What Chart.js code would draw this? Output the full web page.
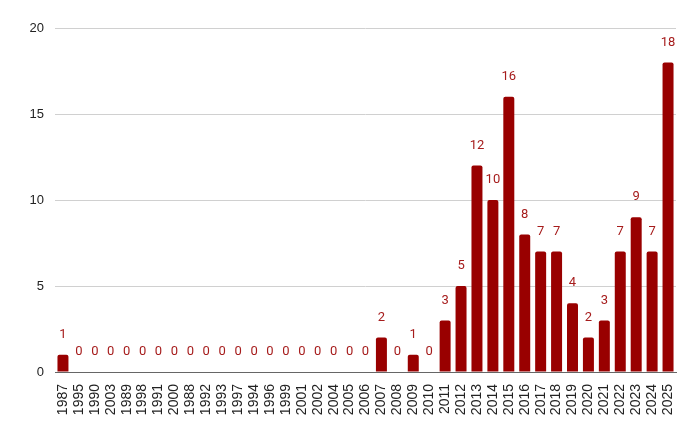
<!DOCTYPE html>
<html lang="en">
<head>
  <meta charset="UTF-8">
  <title>Bar chart</title>
  <style>
    body { margin: 0; background: #fff; }
    #wrap { width: 700px; height: 433px; position: relative; }
  </style>
</head>
<body>
  <div id="wrap"><canvas id="chart"></canvas></div>

  <script src="https://cdn.jsdelivr.net/npm/chart.js"></script>
  <script>
    const years = [
      "1987", "1995", "1990", "2003", "1989", "1998", "1991", "2000", "1988", "1992",
      "1993", "1997", "1994", "1996", "1999", "2001", "2002", "2004", "2005", "2006",
      "2007", "2008", "2009", "2010", "2011", "2012", "2013", "2014", "2015", "2016",
      "2017", "2018", "2019", "2020", "2021", "2022", "2023", "2024", "2025"
    ];
    const counts = [
      1, 0, 0, 0, 0, 0, 0, 0, 0, 0,
      0, 0, 0, 0, 0, 0, 0, 0, 0, 0,
      2, 0, 1, 0, 3, 5, 12, 10, 16, 8,
      7, 7, 4, 2, 3, 7, 9, 7, 18
    ];
    const yTicks = [0, 5, 10, 15, 20];

    // value labels above each bar
    const barLabels = {
      id: "barLabels",
      afterDatasetsDraw(chart) {
        const ctx = chart.ctx;
        const meta = chart.getDatasetMeta(0);
        ctx.save();
        ctx.font = "13px Roboto, sans-serif";
        ctx.fillStyle = "#a61c1c";
        ctx.textAlign = "center";
        ctx.textBaseline = "middle";
        meta.data.forEach((bar, i) => {
          ctx.fillText(String(counts[i]), bar.x, bar.y - 20);
        });
        ctx.restore();
      }
    };

    new Chart(document.getElementById("chart"), {
      type: "bar",
      data: {
        labels: years,
        datasets: [{
          data: counts,
          backgroundColor: "#990000",
          borderRadius: 2,
          borderSkipped: "bottom",
          categoryPercentage: 1,
          barPercentage: 0.69
        }]
      },
      options: {
        responsive: true,
        maintainAspectRatio: false,
        animation: false,
        layout: { padding: { top: 28, right: 24, left: 0, bottom: 0 } },
        plugins: {
          legend: { display: false },
          tooltip: { enabled: false }
        },
        scales: {
          x: {
            grid: { display: false },
            border: { display: true, color: "#666", width: 1 },
            ticks: {
              autoSkip: false,
              minRotation: 90,
              maxRotation: 90,
              padding: 4,
              color: "#222",
              font: { family: "Liberation Sans, Arial, sans-serif", size: 14 }
            },
            afterFit(scale) { scale.height = 61; }
          },
          y: {
            min: 0,
            max: 20,
            afterBuildTicks(scale) { scale.ticks = yTicks.map(v => ({ value: v })); },
            border: { display: false },
            grid: {
              drawTicks: false,
              color: ctx => ctx.tick && ctx.tick.value === 0 ? "#666" : "#d0d0d0"
            },
            ticks: {
              padding: 11,
              color: "#222",
              font: { family: "Liberation Sans, Arial, sans-serif", size: 13 }
            },
            afterFit(scale) { scale.width = 55; }
          }
        }
      },
      plugins: [barLabels]
    });
  </script>
</body>
</html>
